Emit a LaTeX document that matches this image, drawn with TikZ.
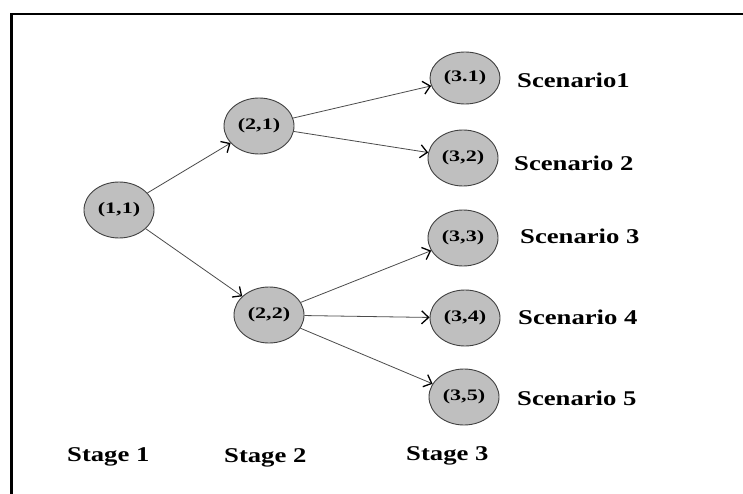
\documentclass[tikz,border=0pt]{standalone}
\usepackage{fontspec}
\usepackage{graphicx}
\usetikzlibrary{shapes.geometric,arrows.meta}
\newfontfamily\tms{Liberation Serif}
\newcommand{\nodetxt}[1]{\scalebox{1.38}[1]{\tms\bfseries\fontsize{16}{16}\selectfont #1}}
\newcommand{\labtxt}[1]{\scalebox{1.27}[1]{\tms\bfseries\fontsize{21}{21}\selectfont #1}}
\tikzset{
  nd/.style={ellipse, draw=black!75, line width=0.9pt, fill=gray!50, minimum width=70pt, minimum height=56pt, inner sep=0pt},
  lab/.style={anchor=west, inner sep=0pt},
  edge/.style={draw=black!70, line width=0.8pt, -{Straight Barb[length=7pt,width=13pt,line width=1.3pt,color=black]}}
}
\begin{document}
\begin{tikzpicture}[x=1pt,y=-1pt]
\useasboundingbox (0,0) rectangle (743,494);
\fill[white] (0,0) rectangle (743,494);
\begin{scope}
\clip (0,0) rectangle (743,494);
\draw[line width=2.5pt] (11.7,14) rectangle (760,520);
\end{scope}
\node[nd] (n11) at (119,210) {\nodetxt{(1,1)}};
\node[nd] (n21) at (259,126) {\nodetxt{(2,1)}};
\node[nd] (n22) at (269,315) {\nodetxt{(2,2)}};
\node[nd, minimum height=52pt] (n31) at (465,78) {\nodetxt{(3.1)}};
\node[nd] (n32) at (463,158) {\nodetxt{(3,2)}};
\node[nd] (n33) at (463,238) {\nodetxt{(3,3)}};
\node[nd] (n34) at (465,318) {\nodetxt{(3,4)}};
\node[nd] (n35) at (464,397) {\nodetxt{(3,5)}};
\draw[edge] (n11) -- (n21);
\draw[edge] (n11) -- (n22);
\draw[edge] (n21) -- (n31);
\draw[edge] (n21) -- (n32);
\draw[edge] (n22) -- (n33);
\draw[edge] (n22) -- (n34);
\draw[edge] (n22) -- (n35);
\node[lab] (s1) at (517,80) {\labtxt{Scenario1}};
\node[lab] (s2) at (514,163) {\labtxt{Scenario 2}};
\node[lab] (s3) at (520,236) {\labtxt{Scenario 3}};
\node[lab] (s4) at (518,317) {\labtxt{Scenario 4}};
\node[lab] (s5) at (517,398) {\labtxt{Scenario 5}};
\node[lab] (g1) at (67,457) {\labtxt{Stage 1}};
\node[lab] (g2) at (224,458) {\labtxt{Stage 2}};
\node[lab] (g3) at (406,456) {\labtxt{Stage 3}};
\end{tikzpicture}
\end{document}
